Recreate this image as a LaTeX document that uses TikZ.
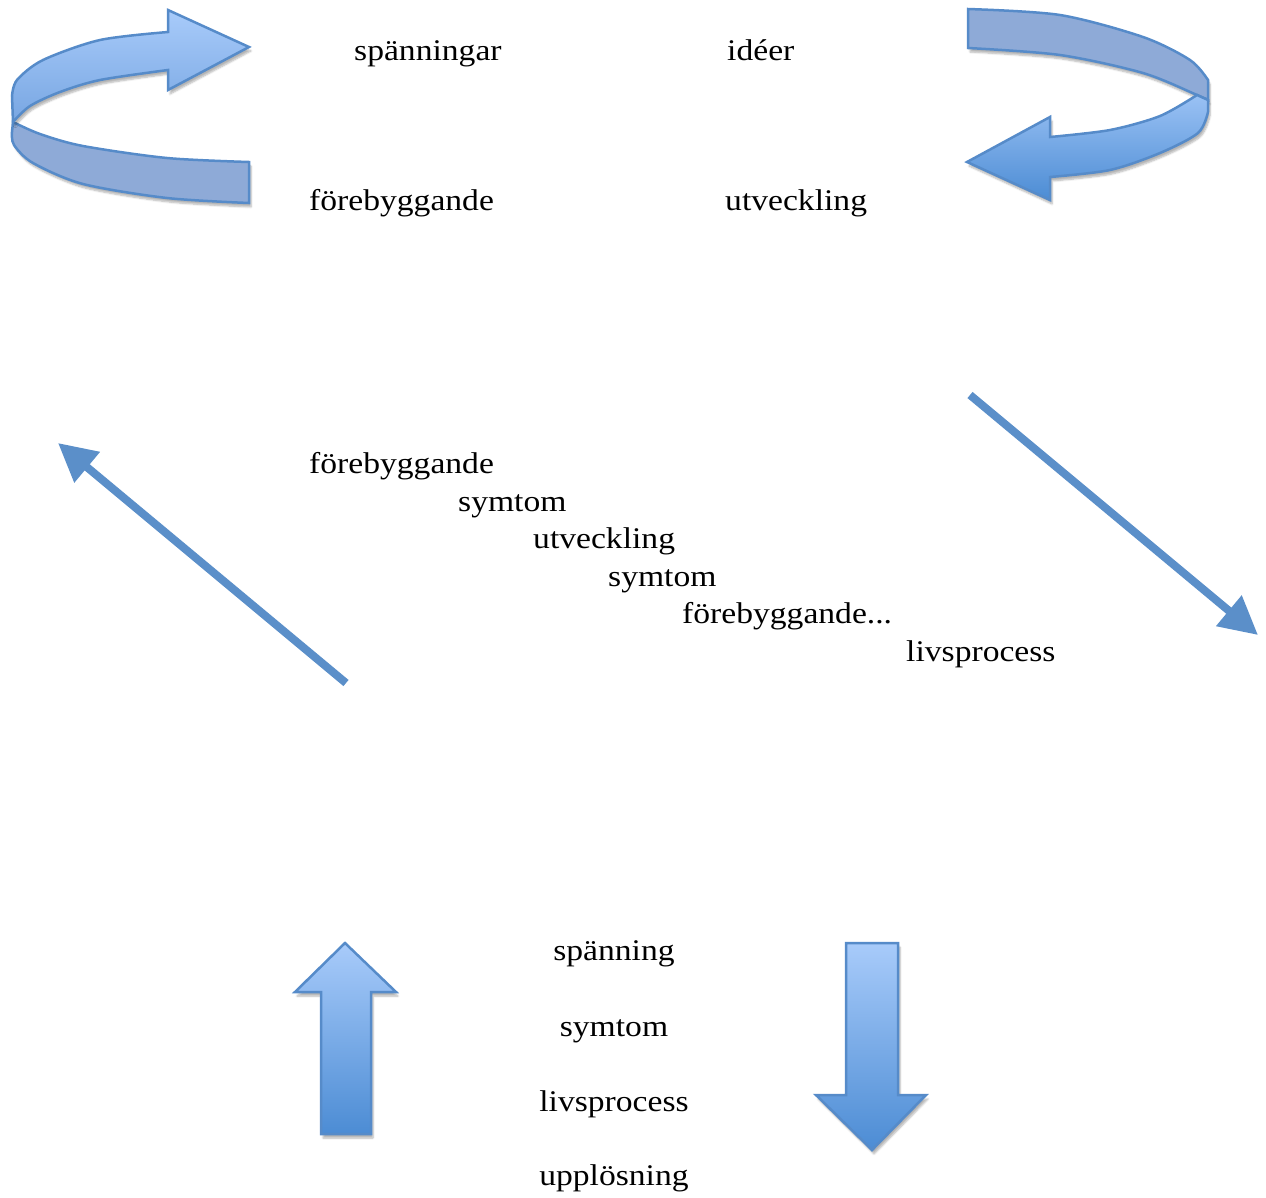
\documentclass[tikz,border=0pt]{standalone}
\usepackage{fontspec}
\setmainfont{Liberation Serif}[FakeStretch=1.12]
\usetikzlibrary{arrows.meta,shadows.blur}
\definecolor{edgeblue}{RGB}{86,139,201}
\definecolor{lineblue}{RGB}{91,143,201}
\definecolor{lightblue}{RGB}{168,203,250}
\definecolor{darkblue}{RGB}{76,140,212}
\definecolor{midblue}{RGB}{120,166,226}
\definecolor{backblue}{RGB}{142,170,215}
\begin{document}
\begin{tikzpicture}[x=1pt,y=-1pt,
  lbl/.style={inner sep=0pt, font=\fontsize{30}{36}\selectfont},
  shape3d/.style={draw=edgeblue, line width=2.5pt, line join=miter},
  shadowed/.style={blur shadow={shadow xshift=2pt,shadow yshift=-4pt,shadow blur steps=6,shadow opacity=30}},
  diag/.style={draw=lineblue, line width=8pt, -{Triangle[length=38pt,width=38pt]}},
]
\useasboundingbox (0,0) rectangle (1266,1197);

% ---- top-left curved arrow
\path[shape3d, fill=backblue, shadowed]
  plot[smooth] coordinates {(13,122) (40,134) (83,146) (167,158) (249,162)}
  -- (249,203)
  -- plot[smooth] coordinates {(249,203) (167,198) (83,184) (33,163) (14,145) (12,132)}
  -- cycle;
\path[shape3d, top color=lightblue, bottom color=midblue, shadowed]
  plot[smooth] coordinates {(13,122) (30,106) (60,92) (100,80) (168,70)}
  -- (168,90) -- (249,47) -- (168,10)
  -- plot[smooth] coordinates {(168,32) (100,40) (43,60) (17,80) (12,96)}
  -- cycle;

% ---- top-right curved arrow
\path[shape3d, fill=backblue, shadowed]
  plot[smooth] coordinates {(968,9) (1060,15) (1143,37) (1190,60) (1208,80)}
  -- (1208,100)
  -- plot[smooth] coordinates {(1208,100) (1197,95) (1143,73) (1060,55) (968,48)}
  -- cycle;
\path[shape3d, top color=lightblue!85!darkblue, bottom color=darkblue, shadowed]
  plot[smooth] coordinates {(1197,95) (1160,116) (1110,130) (1050,137)}
  -- (1050,117) -- (967,162) -- (1050,200) -- (1050,177)
  -- plot[smooth] coordinates {(1050,177) (1110,170) (1160,153) (1198,133) (1208,112)}
  -- (1208,100) -- cycle;

% ---- block arrows
\path[shape3d, top color=lightblue, bottom color=darkblue, shadowed]
  (345,943) -- (396,992) -- (371,992) -- (371,1134) -- (321,1134) -- (321,992) -- (295,992) -- cycle;
\path[shape3d, top color=lightblue, bottom color=darkblue, shadowed]
  (846,943) -- (898,943) -- (898,1095) -- (926,1095) -- (872,1150) -- (816,1095) -- (846,1095) -- cycle;

% ---- diagonal arrows
\coordinate (l1) at (346,683);
\coordinate (l2) at (58,443);
\coordinate (r1) at (970,395);
\coordinate (r2) at (1258,635);
\draw[diag] (l1) -- (l2);
\draw[diag] (r1) -- (r2);

% ---- texts
\node[lbl, anchor=base west] (a1) at (354,60) {spänningar};
\node[lbl, anchor=base west] (a2) at (727,60) {idéer};
\node[lbl, anchor=base west] (a3) at (309,210) {förebyggande};
\node[lbl, anchor=base west] (a4) at (725,210) {utveckling};

\node[lbl, anchor=base west] (m1) at (309,473) {förebyggande};
\node[lbl, anchor=base west] (m2) at (458,511) {symtom};
\node[lbl, anchor=base west] (m3) at (533,548) {utveckling};
\node[lbl, anchor=base west] (m4) at (608,586) {symtom};
\node[lbl, anchor=base west] (m5) at (682,623) {förebyggande...};
\node[lbl, anchor=base west] (m6) at (906,661) {livsprocess};

\node[lbl, anchor=base] (b1) at (614,960) {spänning};
\node[lbl, anchor=base] (b2) at (614,1036) {symtom};
\node[lbl, anchor=base] (b3) at (614,1111) {livsprocess};
\node[lbl, anchor=base] (b4) at (614,1185) {upplösning};
\end{tikzpicture}
\end{document}
